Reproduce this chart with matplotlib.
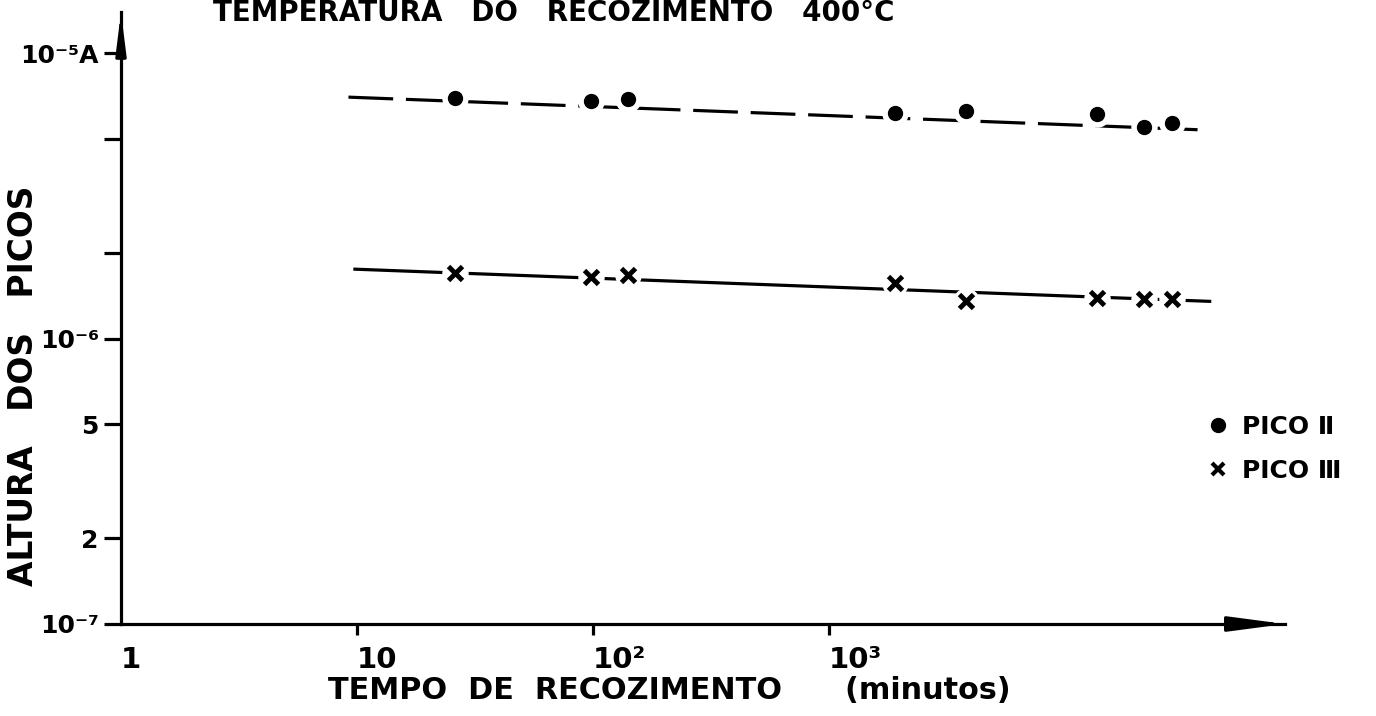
import numpy as np
import matplotlib.pyplot as plt
from matplotlib.lines import Line2D

plt.rcParams['font.family'] = ['DejaVu Sans']
plt.rcParams['font.weight'] = 'bold'
plt.rcParams['axes.labelweight'] = 'bold'
plt.rcParams['font.size'] = 20

# annealing time (minutes) and peak heights (A)
tempo = [26, 98, 140, 1900, 3800, 13600, 21600, 28300]
pico2 = [6.96e-6, 6.79e-6, 6.90e-6, 6.16e-6, 6.26e-6, 6.11e-6, 5.51e-6, 5.69e-6]
pico3 = [1.70e-6, 1.64e-6, 1.67e-6, 1.56e-6, 1.35e-6, 1.39e-6, 1.38e-6, 1.38e-6]

# hand drawn trend lines (end points)
trend_x2 = [9.2, 41000]
trend_y2 = [7.01e-6, 5.37e-6]
trend_x3 = [9.8, 41000]
trend_y3 = [1.75e-6, 1.35e-6]

xticks = [1, 10, 100, 1000]
xtick_labels = ['1', '10', '10²', '10³']
yticks = [1e-7, 2e-7, 5e-7, 1e-6, 2e-6, 5e-6, 1e-5]
ytick_labels = ['10⁻⁷', '2', '5', '10⁻⁶', '', '', '10⁻⁵A']

fig = plt.figure(figsize=(13.76, 7.16), dpi=100)
ax = fig.add_axes([121/1376, 92/716, 1164/1376, 612/716])
ax.set_xscale('log')
ax.set_yscale('log')
ax.set_xlim(1, 10**4.932)
ax.set_ylim(1e-7, 10**-4.856)

ax.spines['top'].set_visible(False)
ax.spines['right'].set_visible(False)
ax.spines['left'].set_linewidth(2.3)
ax.spines['bottom'].set_linewidth(2.3)

# arrow heads on the axes
ax.annotate('', xy=(1, 0), xytext=(1 - 48/1164, 0), xycoords='axes fraction',
            arrowprops=dict(arrowstyle='-|>,head_length=3.4,head_width=0.45',
                            color='k', lw=2.3, shrinkA=0, shrinkB=0, mutation_scale=10),
            annotation_clip=False)
ax.annotate('', xy=(0, 1), xytext=(0, 1 - 34/612), xycoords='axes fraction',
            arrowprops=dict(arrowstyle='-|>,head_length=2.4,head_width=0.3',
                            color='k', lw=2.3, shrinkA=0, shrinkB=0, mutation_scale=10),
            annotation_clip=False)

ax.plot(trend_x2, trend_y2, color='k', lw=2.3, linestyle=(0, (14, 4)), zorder=2)
ax.plot(trend_x3, trend_y3, color='k', lw=2.3, zorder=2)

# white gap behind the symbols, then the symbols
ax.plot(tempo, pico2, 'o', color='white', ms=18, zorder=3)
ax.plot(tempo, pico3, 'o', color='white', ms=18, zorder=3)
ax.plot(tempo, pico2, 'o', color='k', ms=10, zorder=4)
ax.plot(tempo, pico3, 'x', color='k', ms=10, mew=3.5, zorder=4)

ax.set_xticks(xticks)
ax.set_xticklabels(xtick_labels)
ax.xaxis.set_minor_locator(plt.NullLocator())
ax.set_yticks(yticks)
ax.set_yticklabels(ytick_labels)
ax.yaxis.set_minor_locator(plt.NullLocator())
ax.tick_params(axis='x', direction='out', length=8, width=2.3, pad=8, labelsize=21)
ax.tick_params(axis='y', direction='out', length=12, width=2.3, pad=4, labelsize=18)
for lab in ax.get_xticklabels():
    lab.set_horizontalalignment('left')
ax.get_xticklines()[0].set_visible(False)

xl = ax.set_xlabel('TEMPO  DE  RECOZIMENTO      (minutos)', fontsize=22, ha='left', va='top')
ax.xaxis.set_label_coords((328 - 121)/1164, -(676 - 624)/612)
yl = ax.set_ylabel('ALTURA   DOS   PICOS', fontsize=22, va='center')
ax.yaxis.set_label_coords(-(121 - 24)/1164, (624 - 386)/612)

tt = fig.text(213/1376, 1 - 21/716, 'TEMPERATURA   DO   RECOZIMENTO   400°C',
              fontsize=19, ha='left', va='baseline')

# scale the lettering to the span it has on the scan
renderer = fig.canvas.get_renderer()
for t, span, use_height in [(xl, 682, False), (yl, 400, True), (tt, 682, False)]:
    bb = t.get_window_extent(renderer)
    size = bb.height if use_height else bb.width
    t.set_fontsize(t.get_fontsize() * span / size)

handles = [Line2D([], [], marker='o', color='k', ls='', ms=10),
           Line2D([], [], marker='x', color='k', ls='', ms=9, mew=3)]
ax.legend(handles, ['PICO Ⅱ', 'PICO Ⅲ'], frameon=False, fontsize=18,
          loc='center left', bbox_to_anchor=((1180 - 121)/1164, (624 - 449)/612),
          handletextpad=0.4, handlelength=1.2, labelspacing=0.8)

fig.savefig('out.png', dpi=100)
